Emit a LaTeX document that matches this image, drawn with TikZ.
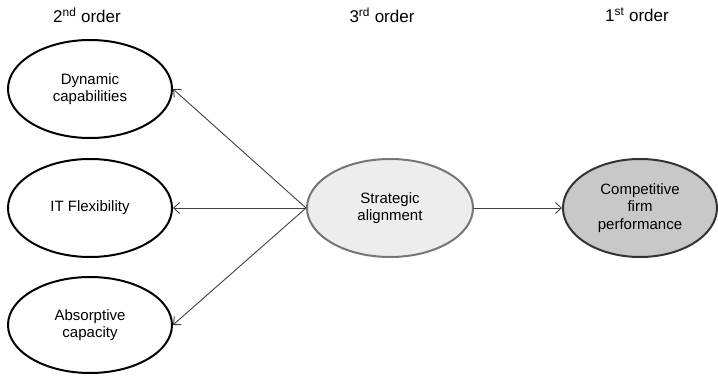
\documentclass[tikz,border=0pt]{standalone}
\usepackage{fontspec}
\setmainfont{Liberation Sans}
\usetikzlibrary{shapes.geometric,arrows.meta}
\definecolor{linegray}{HTML}{404040}
\definecolor{safill}{HTML}{EDEDED}
\definecolor{saborder}{HTML}{767676}
\definecolor{cfill}{HTML}{C8C8C8}
\definecolor{cborder}{HTML}{333333}
\begin{document}
\begin{tikzpicture}[x=1pt,y=-1pt,
  construct/.style={ellipse,draw,line width=2pt,minimum width=164pt,minimum height=98pt,inner sep=0pt,align=center,font=\fontsize{15}{17.5}\selectfont},
  title/.style={font=\fontsize{17}{20}\selectfont,anchor=center},
  conn/.style={draw=linegray,line width=0.9pt,-{Straight Barb[length=6pt,width=11pt,line width=0.9pt]}}]
\useasboundingbox (0,0) rectangle (718,377);
\node[title] (t2) at (87,15) {2\textsuperscript{nd} order};
\node[title] (t3) at (382,15) {3\textsuperscript{rd} order};
\node[title] (t1) at (637,15) {1\textsuperscript{st} order};
\node[construct,draw=black,fill=white] (dc) at (90,89) {Dynamic\\capabilities};
\node[construct,draw=black,fill=white] (itf) at (90,208) {IT Flexibility};
\node[construct,draw=black,fill=white,minimum height=96pt] (ac) at (90,325) {Absorptive\\capacity};
\node[construct,draw=saborder,fill=safill,minimum width=166pt] (sa) at (390,208) {Strategic\\alignment};
\node[construct,draw=cborder,fill=cfill,minimum width=154pt] (cfp) at (640,208) {Competitive\\firm\\performance};
\draw[conn] (sa.west) -- (dc.east);
\draw[conn] (sa.west) -- (itf.east);
\draw[conn] (sa.west) -- (ac.east);
\draw[conn] (sa.east) -- (cfp.west);
\end{tikzpicture}
\end{document}
